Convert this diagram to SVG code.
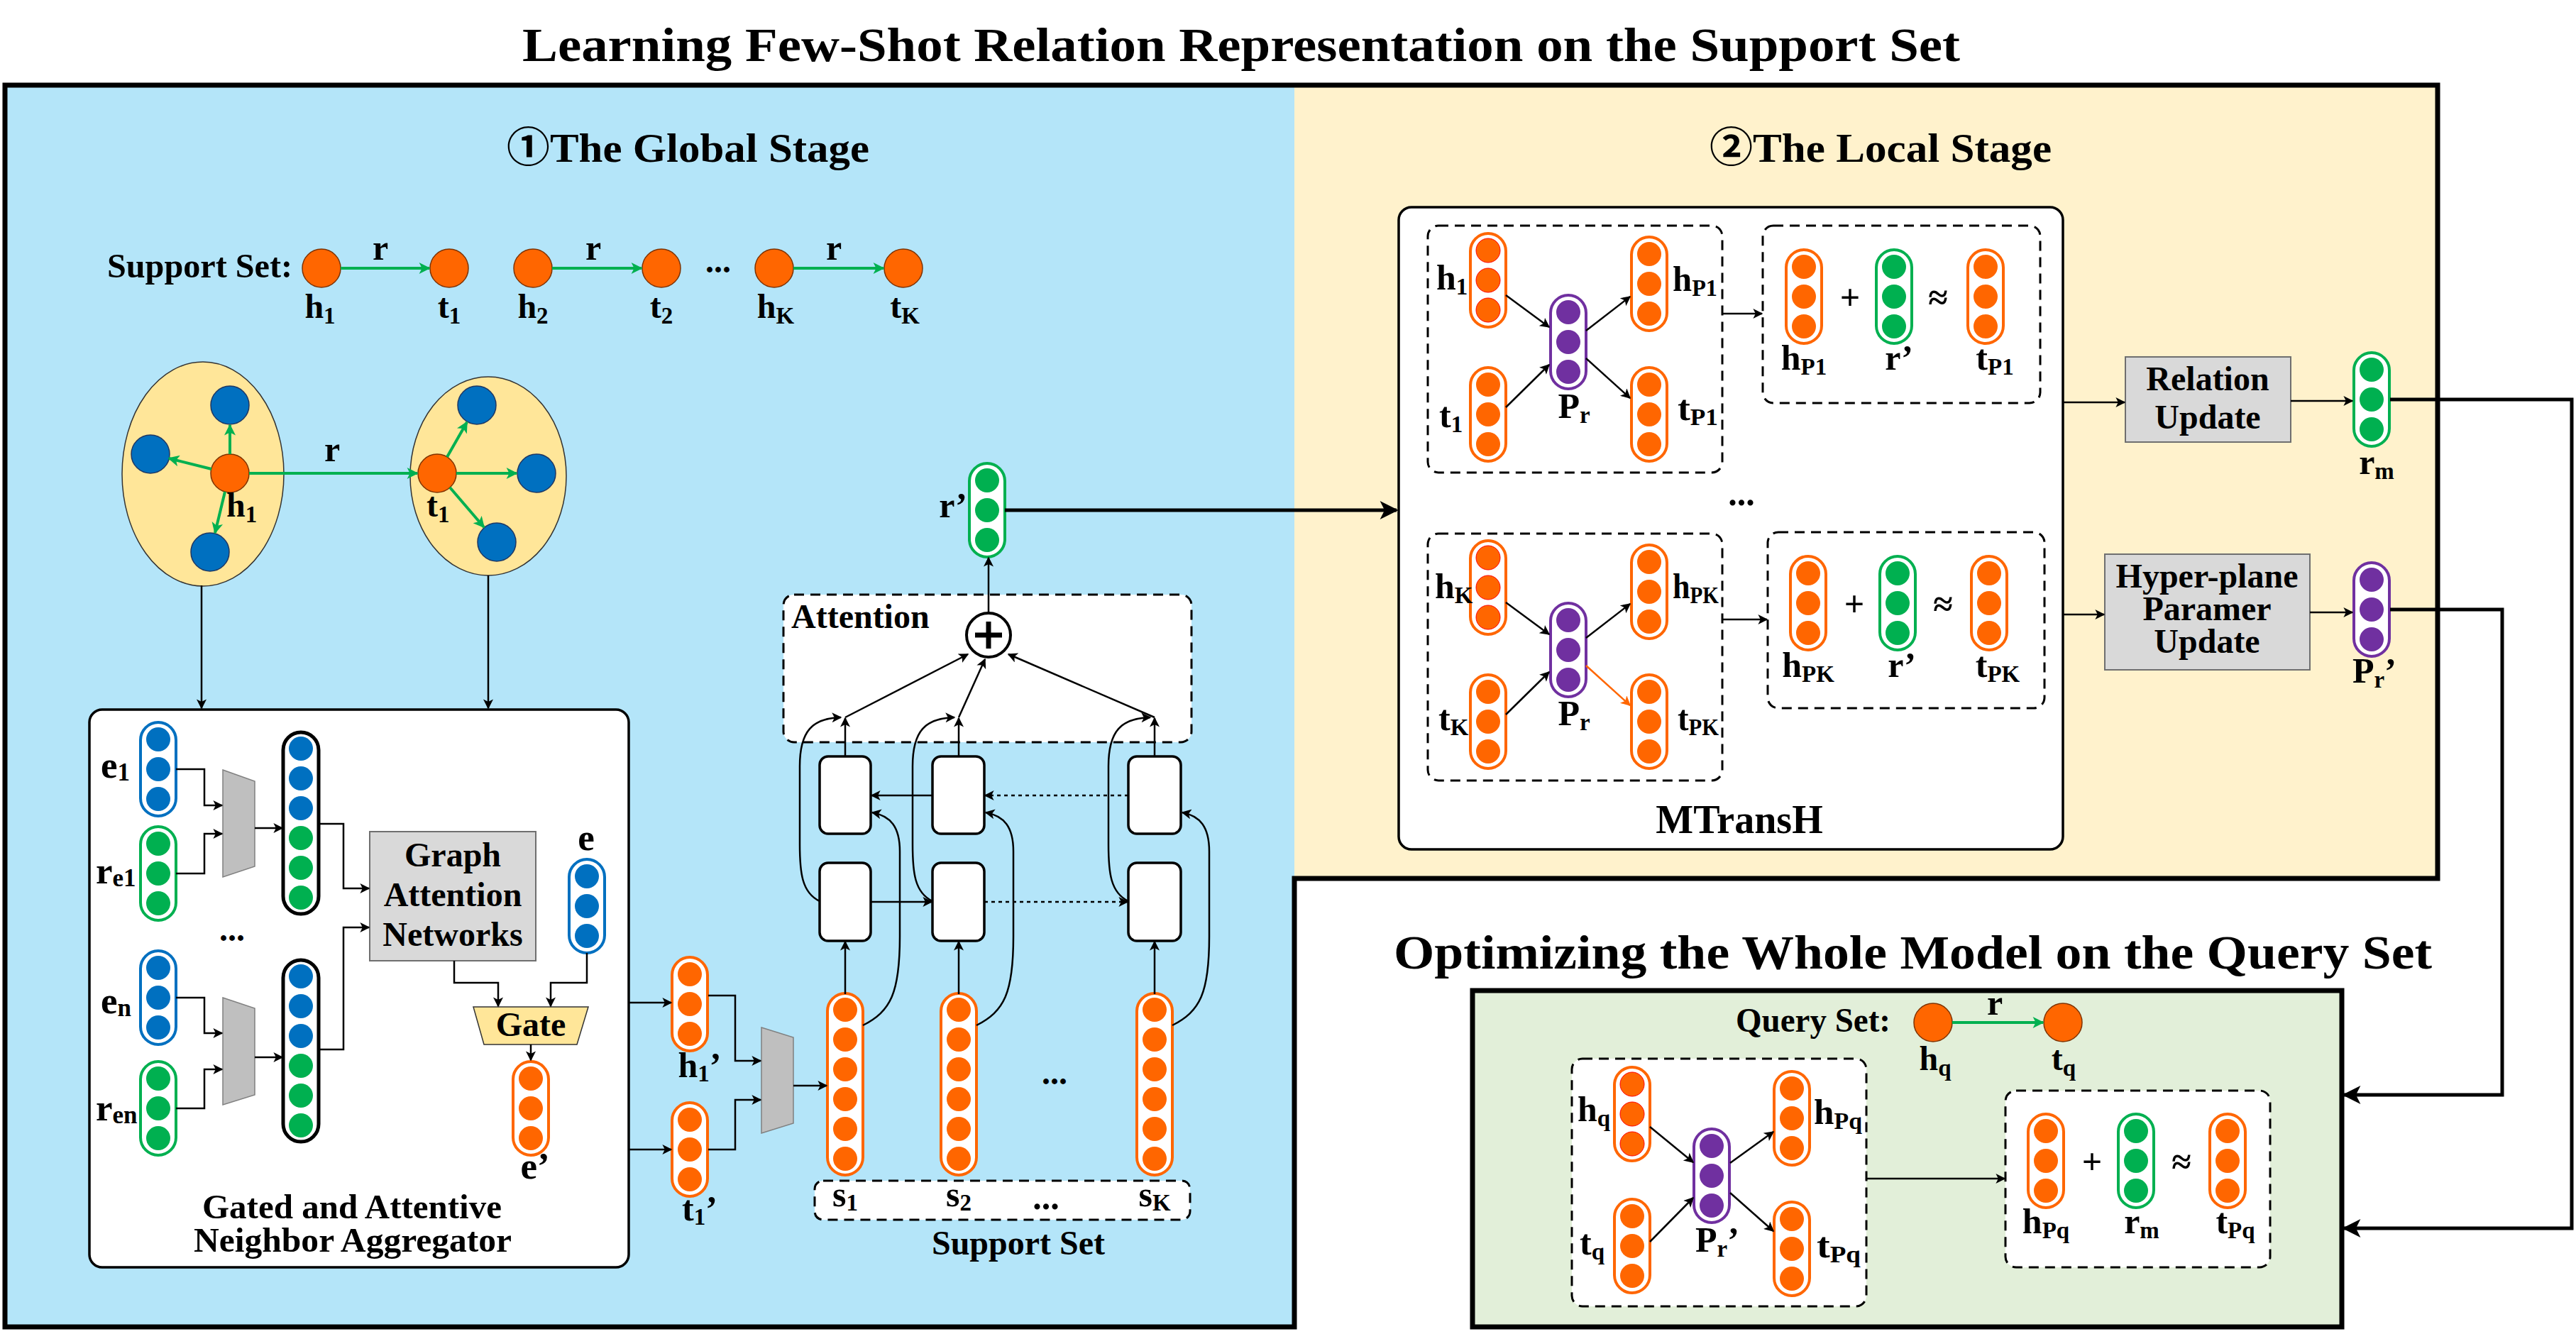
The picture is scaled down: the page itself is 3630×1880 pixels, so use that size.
<svg xmlns="http://www.w3.org/2000/svg" width="3630" height="1880" viewBox="0 0 3630 1880">
<style>
.t{font-family:"Liberation Serif","Noto Sans CJK SC",serif;font-weight:bold;fill:#000}
.ttl{font-size:68px}
.stg{font-size:58px}
.lb{font-size:50px}
.sm{font-size:48px}
.bx{font-size:48px}
.sub{font-size:33px}
.ln{fill:none;stroke:#000;stroke-width:2.5}
.thk{fill:none;stroke:#000;stroke-width:5}
.dash{fill:#fff;stroke:#000;stroke-width:3;stroke-dasharray:14 9}
.dot{fill:none;stroke:#000;stroke-width:2.5;stroke-dasharray:5 5}
.gray{fill:#d9d9d9;stroke:#6f6f6f;stroke-width:2}
.trap{fill:#bfbfbf;stroke:#808080;stroke-width:1.5}
.lstm{fill:#fff;stroke:#000;stroke-width:3.5}
.gar{fill:none;stroke:#00b050;stroke-width:4}
.on{fill:#ff6600;stroke:#7f3300;stroke-width:1.5}
.bn{fill:#0070c0;stroke:#1f3864;stroke-width:1.5}
</style>
<defs>
<marker id="ak" viewBox="0 0 10 10" refX="9" refY="5" markerWidth="17" markerHeight="14" markerUnits="userSpaceOnUse" orient="auto"><path d="M0,0 L10,5 L0,10 L2.5,5 z" fill="#000"/></marker>
<marker id="akb" viewBox="0 0 10 10" refX="9" refY="5" markerWidth="30" markerHeight="26" markerUnits="userSpaceOnUse" orient="auto"><path d="M0,0 L10,5 L0,10 L2.5,5 z" fill="#000"/></marker>
<marker id="ag" viewBox="0 0 10 10" refX="9" refY="5" markerWidth="18" markerHeight="16" markerUnits="userSpaceOnUse" orient="auto"><path d="M0,0 L10,5 L0,10 L2.5,5 z" fill="#00b050"/></marker>
<marker id="ao" viewBox="0 0 10 10" refX="9" refY="5" markerWidth="17" markerHeight="14" markerUnits="userSpaceOnUse" orient="auto"><path d="M0,0 L10,5 L0,10 L2.5,5 z" fill="#ff6600"/></marker>
<g id="v3o"><rect x="-25" y="-66" width="50" height="132" rx="25" fill="#fff" stroke="#ff6600" stroke-width="4"/><circle cy="-42" r="17" fill="#ff6600"/><circle r="17" fill="#ff6600"/><circle cy="42" r="17" fill="#ff6600"/></g>
<g id="v3r"><rect x="-25" y="-66" width="50" height="132" rx="25" fill="#fff" stroke="#ff6600" stroke-width="4"/><circle cy="-42" r="17" fill="#ff6600" stroke="#ff0000" stroke-width="1"/><circle r="17" fill="#ff6600" stroke="#ff0000" stroke-width="1"/><circle cy="42" r="17" fill="#ff6600" stroke="#ff0000" stroke-width="1"/></g>
<g id="v3b"><rect x="-25" y="-66" width="50" height="132" rx="25" fill="#fff" stroke="#0070c0" stroke-width="4"/><circle cy="-42" r="17" fill="#0070c0"/><circle r="17" fill="#0070c0"/><circle cy="42" r="17" fill="#0070c0"/></g>
<g id="v3g"><rect x="-25" y="-66" width="50" height="132" rx="25" fill="#fff" stroke="#00b050" stroke-width="4"/><circle cy="-42" r="17" fill="#00b050"/><circle r="17" fill="#00b050"/><circle cy="42" r="17" fill="#00b050"/></g>
<g id="v3p"><rect x="-25" y="-66" width="50" height="132" rx="25" fill="#fff" stroke="#7030a0" stroke-width="4"/><circle cy="-42" r="17" fill="#7030a0"/><circle r="17" fill="#7030a0"/><circle cy="42" r="17" fill="#7030a0"/></g>
<g id="v6k"><rect x="-25" y="-128" width="50" height="256" rx="25" fill="#fff" stroke="#000" stroke-width="5"/><circle cy="-105" r="17" fill="#0070c0"/><circle cy="-63" r="17" fill="#0070c0"/><circle cy="-21" r="17" fill="#0070c0"/><circle cy="21" r="17" fill="#00b050"/><circle cy="63" r="17" fill="#00b050"/><circle cy="105" r="17" fill="#00b050"/></g>
<g id="v6o"><rect x="-25" y="-128" width="50" height="256" rx="25" fill="#fff" stroke="#ff6600" stroke-width="4"/><circle cy="-105" r="17" fill="#ff6600"/><circle cy="-63" r="17" fill="#ff6600"/><circle cy="-21" r="17" fill="#ff6600"/><circle cy="21" r="17" fill="#ff6600"/><circle cy="63" r="17" fill="#ff6600"/><circle cy="105" r="17" fill="#ff6600"/></g>
</defs>

<rect width="3630" height="1880" fill="#fff"/>
<!-- backgrounds -->
<g id="frame">
<rect x="7" y="120" width="1817" height="1750" fill="#b4e5f9"/>
<rect x="1824" y="120" width="1611" height="1118" fill="#fff2cc"/>
<path d="M7,120 H3435 V1238 H1824 V1870 H7 Z" fill="none" stroke="#000" stroke-width="7"/>
<rect x="2075" y="1396" width="1225" height="474" fill="#e2efd9" stroke="#000" stroke-width="7"/>
</g>

<!-- titles -->
<g id="titles">
<text class="t ttl" x="736" y="86" textLength="2026" lengthAdjust="spacingAndGlyphs">Learning Few-Shot Relation Representation on the Support Set</text>
<text class="t stg" x="714" y="228" textLength="511" lengthAdjust="spacingAndGlyphs">①The Global Stage</text>
<text class="t stg" x="2409" y="228" textLength="482" lengthAdjust="spacingAndGlyphs">②The Local Stage</text>
<text class="t ttl" x="1964" y="1365" textLength="1463" lengthAdjust="spacingAndGlyphs">Optimizing the Whole Model on the Query Set</text>
</g>

<!-- support set row -->
<g id="support-row">
<text class="t sm" x="151" y="391" textLength="261" lengthAdjust="spacingAndGlyphs">Support Set:</text>
<circle class="on" cx="453" cy="378" r="27"/><circle class="on" cx="633" cy="378" r="27"/>
<circle class="on" cx="751" cy="378" r="27"/><circle class="on" cx="932" cy="378" r="27"/>
<circle class="on" cx="1091" cy="378" r="27"/><circle class="on" cx="1273" cy="378" r="27"/>
<text class="t sm" x="1012" y="384" text-anchor="middle">...</text>
<text class="t lb" x="536" y="366" text-anchor="middle">r</text>
<text class="t lb" x="836" y="366" text-anchor="middle">r</text>
<text class="t lb" x="1175" y="366" text-anchor="middle">r</text>
<text class="t sm" x="451" y="448" text-anchor="middle">h<tspan class="sub" dy="8">1</tspan></text>
<text class="t sm" x="633" y="448" text-anchor="middle">t<tspan class="sub" dy="8">1</tspan></text>
<text class="t sm" x="751" y="448" text-anchor="middle">h<tspan class="sub" dy="8">2</tspan></text>
<text class="t sm" x="932" y="448" text-anchor="middle">t<tspan class="sub" dy="8">2</tspan></text>
<text class="t sm" x="1093" y="448" text-anchor="middle">h<tspan class="sub" dy="8">K</tspan></text>
<text class="t sm" x="1275" y="448" text-anchor="middle">t<tspan class="sub" dy="8">K</tspan></text>
</g>

<!-- neighborhoods -->
<g id="nbr-h1">
<ellipse cx="286" cy="668" rx="114" ry="158" fill="#ffe699" stroke="#333" stroke-width="1.5"/>
<circle class="bn" cx="324" cy="571" r="27"/><circle class="bn" cx="212" cy="640" r="27"/><circle class="bn" cx="296" cy="778" r="27"/>
<circle class="on" cx="324" cy="667" r="27"/>
<text class="t sm" x="319" y="728">h<tspan class="sub" dy="8">1</tspan></text>
</g>
<g id="nbr-t1">
<ellipse cx="688" cy="671" rx="110" ry="140" fill="#ffe699" stroke="#333" stroke-width="1.5"/>
<circle class="bn" cx="672" cy="571" r="27"/><circle class="bn" cx="756" cy="667" r="27"/><circle class="bn" cx="700" cy="764" r="27"/>
<circle class="on" cx="616" cy="667" r="27"/>
<text class="t sm" x="601" y="728">t<tspan class="sub" dy="8">1</tspan></text>
<text class="t lb" x="468" y="650" text-anchor="middle">r</text>
</g>

<!-- aggregator -->
<g id="aggregator">
<rect x="126" y="1000" width="760" height="786" rx="18" fill="#fff" stroke="#000" stroke-width="3.5"/>
<text class="t bx" x="496" y="1717" text-anchor="middle" textLength="422" lengthAdjust="spacingAndGlyphs">Gated and Attentive</text>
<text class="t bx" x="497" y="1764" text-anchor="middle" textLength="448" lengthAdjust="spacingAndGlyphs">Neighbor Aggregator</text>
</g>
<g id="e1"><use href="#v3b" x="223" y="1084"/><text class="t" style="font-size:53px" x="142" y="1096">e<tspan style="font-size:35px" dy="4">1</tspan></text></g>
<g id="re1"><use href="#v3g" x="223" y="1231"/><text class="t" style="font-size:53px" x="135" y="1245">r<tspan style="font-size:35px" dy="4">e1</tspan></text></g>
<g id="en"><use href="#v3b" x="223" y="1406"/><text class="t" style="font-size:53px" x="142" y="1428">e<tspan style="font-size:35px" dy="4">n</tspan></text></g>
<g id="ren"><use href="#v3g" x="223" y="1562"/><text class="t" style="font-size:53px" x="135" y="1579">r<tspan style="font-size:35px" dy="4">en</tspan></text></g>
<text class="t sm" x="327" y="1326" text-anchor="middle">...</text>
<g id="concat1"><polygon class="trap" points="314,1085 359,1101 359,1221 314,1236"/></g>
<g id="concat2"><polygon class="trap" points="314,1406 359,1421 359,1543 314,1557"/></g>
<g id="c1"><use href="#v6k" x="424" y="1160"/></g>
<g id="c2"><use href="#v6k" x="424" y="1481"/></g>
<g id="gat"><rect class="gray" x="521" y="1172" width="234" height="182"/>
<text class="t" style="font-size:48px" x="638" y="1221" text-anchor="middle">Graph</text>
<text class="t" style="font-size:48px" x="638" y="1277" text-anchor="middle">Attention</text>
<text class="t" style="font-size:48px" x="638" y="1333" text-anchor="middle">Networks</text></g>
<g id="e"><use href="#v3b" x="827" y="1277"/><text class="t" style="font-size:53px" x="826" y="1198" text-anchor="middle">e</text></g>
<g id="gate"><polygon points="667,1419 829,1419 813,1472 682,1472" fill="#ffe699" stroke="#333" stroke-width="1.5"/><text class="t sm" x="748" y="1460" text-anchor="middle">Gate</text></g>
<g id="eprime"><use href="#v3o" x="748" y="1562"/><text class="t" style="font-size:53px" x="754" y="1661" text-anchor="middle">e’</text></g>

<!-- h1' t1' -->
<g id="h1p"><use href="#v3o" x="972" y="1415"/><text class="t lb" x="986" y="1518" text-anchor="middle">h<tspan class="sub" dy="6">1</tspan><tspan dy="-6">’</tspan></text></g>
<g id="t1p"><use href="#v3o" x="972" y="1620"/><text class="t lb" x="986" y="1720" text-anchor="middle">t<tspan class="sub" dy="6">1</tspan><tspan dy="-6">’</tspan></text></g>
<g id="concat3"><polygon class="trap" points="1073,1448 1118,1462 1118,1583 1073,1597"/></g>
<g id="s1"><use href="#v6o" x="1191" y="1528"/></g>
<g id="s2"><use href="#v6o" x="1351" y="1528"/></g>
<g id="sK"><use href="#v6o" x="1627" y="1528"/></g>
<text class="t sm" x="1486" y="1528" text-anchor="middle">...</text>
<g id="supportbox"><rect class="dash" x="1148" y="1664" width="529" height="55" rx="12"/>
<text class="t lb" x="1191" y="1700" text-anchor="middle">s<tspan class="sub" dy="6">1</tspan></text>
<text class="t lb" x="1351" y="1700" text-anchor="middle">s<tspan class="sub" dy="6">2</tspan></text>
<text class="t lb" x="1474" y="1704" text-anchor="middle">...</text>
<text class="t lb" x="1627" y="1700" text-anchor="middle">s<tspan class="sub" dy="6">K</tspan></text>
<text class="t sm" x="1435" y="1768" text-anchor="middle">Support Set</text></g>

<!-- attention -->
<g id="attention"><rect class="dash" x="1104" y="838" width="575" height="208" rx="15"/>
<text class="t bx" x="1115" y="885">Attention</text></g>
<g id="lstm">
<rect class="lstm" x="1155" y="1216" width="72" height="110" rx="12"/>
<rect class="lstm" x="1314" y="1216" width="73" height="110" rx="12"/>
<rect class="lstm" x="1590" y="1216" width="74" height="110" rx="12"/>
<rect class="lstm" x="1155" y="1066" width="72" height="109" rx="12"/>
<rect class="lstm" x="1314" y="1066" width="73" height="109" rx="12"/>
<rect class="lstm" x="1590" y="1066" width="74" height="109" rx="12"/>
</g>
<g id="plus"><circle cx="1393" cy="895" r="31" fill="#fff" stroke="#000" stroke-width="4"/><path d="M1393,876 V914 M1374,895 H1412" stroke="#000" stroke-width="7"/></g>
<g id="rprime"><use href="#v3g" x="1391" y="719"/><text class="t lb" x="1343" y="729" text-anchor="middle">r’</text></g>

<!-- MTransH -->
<g id="mtransh"><rect x="1971" y="292" width="936" height="905" rx="18" fill="#fff" stroke="#000" stroke-width="3.5"/>
<text class="t" style="font-size:56px" x="2451" y="1174" text-anchor="middle">MTransH</text>
<text class="t lb" x="2454" y="712" text-anchor="middle">...</text></g>
<g id="proj1"><rect class="dash" x="2012" y="318" width="415" height="348" rx="15"/>
<use href="#v3r" x="2097" y="395"/><use href="#v3o" x="2097" y="584"/><use href="#v3p" x="2210" y="482"/><use href="#v3o" x="2324" y="400"/><use href="#v3o" x="2324" y="584"/>
<text class="t lb" x="2024" y="408">h<tspan class="sub" dy="7">1</tspan></text>
<text class="t lb" x="2028" y="602">t<tspan class="sub" dy="7">1</tspan></text>
<text class="t lb" x="2218" y="589" text-anchor="middle">P<tspan class="sub" dy="7">r</tspan></text>
<text class="t lb" x="2357" y="410" textLength="63" lengthAdjust="spacingAndGlyphs">h<tspan class="sub" dy="7">P1</tspan></text>
<text class="t lb" x="2364" y="592" textLength="57" lengthAdjust="spacingAndGlyphs">t<tspan class="sub" dy="7">P1</tspan></text></g>
<g id="trans1"><rect class="dash" x="2484" y="318" width="391" height="250" rx="15"/>
<use href="#v3o" x="2542" y="418"/><use href="#v3g" x="2669" y="418"/><use href="#v3o" x="2798" y="418"/>
<text class="t lb" x="2607" y="436" text-anchor="middle">+</text><text class="t lb" x="2731" y="436" text-anchor="middle">≈</text>
<text class="t lb" x="2542" y="521" text-anchor="middle">h<tspan class="sub" dy="7">P1</tspan></text>
<text class="t lb" x="2676" y="521" text-anchor="middle">r’</text>
<text class="t lb" x="2811" y="521" text-anchor="middle">t<tspan class="sub" dy="7">P1</tspan></text></g>
<g id="projK"><rect class="dash" x="2012" y="752" width="415" height="348" rx="15"/>
<use href="#v3r" x="2097" y="828"/><use href="#v3o" x="2097" y="1017"/><use href="#v3p" x="2210" y="916"/><use href="#v3o" x="2324" y="834"/><use href="#v3o" x="2324" y="1017"/>
<text class="t lb" x="2022" y="843">h<tspan class="sub" dy="7">K</tspan></text>
<text class="t lb" x="2027" y="1029">t<tspan class="sub" dy="7">K</tspan></text>
<text class="t lb" x="2218" y="1022" text-anchor="middle">P<tspan class="sub" dy="7">r</tspan></text>
<text class="t lb" x="2357" y="843" textLength="65" lengthAdjust="spacingAndGlyphs">h<tspan class="sub" dy="7">PK</tspan></text>
<text class="t lb" x="2364" y="1029" textLength="58" lengthAdjust="spacingAndGlyphs">t<tspan class="sub" dy="7">PK</tspan></text></g>
<g id="transK"><rect class="dash" x="2491" y="750" width="390" height="248" rx="15"/>
<use href="#v3o" x="2548" y="850"/><use href="#v3g" x="2674" y="850"/><use href="#v3o" x="2803" y="850"/>
<text class="t lb" x="2613" y="868" text-anchor="middle">+</text><text class="t lb" x="2738" y="868" text-anchor="middle">≈</text>
<text class="t lb" x="2548" y="954" text-anchor="middle">h<tspan class="sub" dy="7">PK</tspan></text>
<text class="t lb" x="2680" y="954" text-anchor="middle">r’</text>
<text class="t lb" x="2815" y="954" text-anchor="middle">t<tspan class="sub" dy="7">PK</tspan></text></g>

<!-- updates -->
<g id="relupdate"><rect class="gray" x="2995" y="503" width="233" height="120"/>
<text class="t bx" x="3111" y="550" text-anchor="middle">Relation</text>
<text class="t bx" x="3111" y="604" text-anchor="middle">Update</text></g>
<g id="rm"><use href="#v3g" x="3342" y="563"/><text class="t lb" x="3349" y="668" text-anchor="middle">r<tspan class="sub" dy="7">m</tspan></text></g>
<g id="hypupdate"><rect class="gray" x="2966" y="781" width="289" height="163"/>
<text class="t bx" x="3110" y="828" text-anchor="middle">Hyper-plane</text>
<text class="t bx" x="3110" y="874" text-anchor="middle">Paramer</text>
<text class="t bx" x="3110" y="920" text-anchor="middle">Update</text></g>
<g id="prp"><use href="#v3p" x="3342" y="859"/><text class="t lb" x="3346" y="962" text-anchor="middle">P<tspan class="sub" dy="7">r</tspan><tspan dy="-7">’</tspan></text></g>

<!-- query -->
<g id="queryrow"><text class="t sm" x="2446" y="1454" textLength="218" lengthAdjust="spacingAndGlyphs">Query Set:</text>
<circle class="on" cx="2724" cy="1441" r="27"/><circle class="on" cx="2907" cy="1441" r="27"/>
<text class="t lb" x="2811" y="1430" text-anchor="middle">r</text>
<text class="t sm" x="2727" y="1508" text-anchor="middle">h<tspan class="sub" dy="8">q</tspan></text>
<text class="t sm" x="2908" y="1508" text-anchor="middle">t<tspan class="sub" dy="8">q</tspan></text></g>
<g id="projq"><rect class="dash" x="2215" y="1492" width="415" height="349" rx="15"/>
<use href="#v3r" x="2300" y="1570"/><use href="#v3o" x="2300" y="1756"/><use href="#v3p" x="2412" y="1657"/><use href="#v3o" x="2525" y="1576"/><use href="#v3o" x="2525" y="1760"/>
<text class="t lb" x="2223" y="1580">h<tspan class="sub" dy="7">q</tspan></text>
<text class="t lb" x="2226" y="1768">t<tspan class="sub" dy="7">q</tspan></text>
<text class="t lb" x="2420" y="1764" text-anchor="middle">P<tspan class="sub" dy="7">r</tspan><tspan dy="-7">’</tspan></text>
<text class="t lb" x="2556" y="1584" textLength="68" lengthAdjust="spacingAndGlyphs">h<tspan class="sub" dy="7">Pq</tspan></text>
<text class="t lb" x="2560" y="1772" textLength="62" lengthAdjust="spacingAndGlyphs">t<tspan class="sub" dy="7">Pq</tspan></text></g>
<g id="transq"><rect class="dash" x="2826" y="1537" width="373" height="249" rx="15"/>
<use href="#v3o" x="2883" y="1636"/><use href="#v3g" x="3010" y="1636"/><use href="#v3o" x="3139" y="1636"/>
<text class="t lb" x="2948" y="1654" text-anchor="middle">+</text><text class="t lb" x="3074" y="1654" text-anchor="middle">≈</text>
<text class="t lb" x="2883" y="1738" text-anchor="middle">h<tspan class="sub" dy="7">Pq</tspan></text>
<text class="t lb" x="3018" y="1738" text-anchor="middle">r<tspan class="sub" dy="7">m</tspan></text>
<text class="t lb" x="3150" y="1738" text-anchor="middle">t<tspan class="sub" dy="7">Pq</tspan></text></g>

<!-- connectors -->
<g id="connectors">
<path class="gar" d="M480,378 H605" marker-end="url(#ag)"/>
<path class="gar" d="M778,378 H904" marker-end="url(#ag)"/>
<path class="gar" d="M1118,378 H1245" marker-end="url(#ag)"/>
<path class="gar" d="M324,640 V599" marker-end="url(#ag)"/>
<path class="gar" d="M298,661 L238,646" marker-end="url(#ag)"/>
<path class="gar" d="M317,693 L303,751" marker-end="url(#ag)"/>
<path class="gar" d="M351,667 H588" marker-end="url(#ag)"/>
<path class="gar" d="M630,644 L658,595" marker-end="url(#ag)"/>
<path class="gar" d="M643,667 H728" marker-end="url(#ag)"/>
<path class="gar" d="M634,687 L682,743" marker-end="url(#ag)"/>
<path class="gar" d="M2751,1441 H2879" marker-end="url(#ag)"/>

<path class="ln" d="M284,825 V998" marker-end="url(#ak)"/>
<path class="ln" d="M688,811 V998" marker-end="url(#ak)"/>
<path class="ln" d="M248,1084 H288 V1135 H313" marker-end="url(#ak)"/>
<path class="ln" d="M248,1231 H288 V1175 H313" marker-end="url(#ak)"/>
<path class="ln" d="M359,1167 H398" marker-end="url(#ak)"/>
<path class="ln" d="M248,1406 H288 V1456 H313" marker-end="url(#ak)"/>
<path class="ln" d="M248,1562 H288 V1507 H313" marker-end="url(#ak)"/>
<path class="ln" d="M359,1490 H398" marker-end="url(#ak)"/>
<path class="ln" d="M449,1161 H484 V1252 H520" marker-end="url(#ak)"/>
<path class="ln" d="M449,1479 H484 V1307 H520" marker-end="url(#ak)"/>
<path class="ln" d="M640,1354 V1385 H702 V1418" marker-end="url(#ak)"/>
<path class="ln" d="M827,1343 V1385 H776 V1418" marker-end="url(#ak)"/>
<path class="ln" d="M748,1472 V1494" marker-end="url(#ak)"/>
<path class="ln" d="M886,1413 H946" marker-end="url(#ak)"/>
<path class="ln" d="M886,1620 H946" marker-end="url(#ak)"/>
<path class="ln" d="M998,1403 H1036 V1495 H1072" marker-end="url(#ak)"/>
<path class="ln" d="M998,1620 H1036 V1550 H1072" marker-end="url(#ak)"/>
<path class="ln" d="M1118,1530 H1165" marker-end="url(#ak)"/>

<path class="ln" d="M1191,1401 V1327" marker-end="url(#ak)"/>
<path class="ln" d="M1351,1401 V1327" marker-end="url(#ak)"/>
<path class="ln" d="M1627,1401 V1327" marker-end="url(#ak)"/>
<path class="ln" d="M1227,1271 H1313" marker-end="url(#ak)"/>
<path class="dot" d="M1387,1271 H1589" marker-end="url(#ak)"/>
<path class="ln" d="M1314,1121 H1228" marker-end="url(#ak)"/>
<path class="dot" d="M1590,1121 H1388" marker-end="url(#ak)"/>
<path class="ln" d="M1216,1445 C1255,1425 1268,1400 1268,1320 L1268,1200 C1268,1165 1255,1150 1229,1145" marker-end="url(#ak)"/>
<path class="ln" d="M1376,1445 C1415,1425 1428,1400 1428,1320 L1428,1200 C1428,1165 1415,1150 1389,1145" marker-end="url(#ak)"/>
<path class="ln" d="M1652,1445 C1691,1425 1704,1400 1704,1320 L1704,1200 C1704,1165 1691,1150 1666,1145" marker-end="url(#ak)"/>
<path class="ln" d="M1155,1270 C1130,1258 1127,1230 1127,1190 L1127,1080 C1127,1030 1145,1012 1185,1011" marker-end="url(#ak)"/>
<path class="ln" d="M1314,1270 C1289,1258 1286,1230 1286,1190 L1286,1080 C1286,1030 1304,1012 1345,1011" marker-end="url(#ak)"/>
<path class="ln" d="M1590,1270 C1565,1258 1562,1230 1562,1190 L1562,1080 C1562,1030 1580,1012 1621,1011" marker-end="url(#ak)"/>
<path class="ln" d="M1191,1066 V1012" marker-end="url(#ak)"/>
<path class="ln" d="M1351,1066 V1012" marker-end="url(#ak)"/>
<path class="ln" d="M1627,1066 V1012" marker-end="url(#ak)"/>
<path class="ln" d="M1191,1011 L1364,922" marker-end="url(#ak)"/>
<path class="ln" d="M1351,1011 L1388,929" marker-end="url(#ak)"/>
<path class="ln" d="M1627,1011 L1421,922" marker-end="url(#ak)"/>
<path class="ln" d="M1393,864 V786" marker-end="url(#ak)"/>
<path class="thk" d="M1416,719 H1968" marker-end="url(#akb)"/>

<path class="ln" d="M2122,416 L2183,461" marker-end="url(#ak)"/>
<path class="ln" d="M2122,574 L2183,514" marker-end="url(#ak)"/>
<path class="ln" d="M2235,466 L2297,418" marker-end="url(#ak)"/>
<path class="ln" d="M2235,505 L2297,561" marker-end="url(#ak)"/>
<path class="ln" d="M2427,442 H2483" marker-end="url(#ak)"/>
<path class="ln" d="M2122,849 L2183,894" marker-end="url(#ak)"/>
<path class="ln" d="M2122,1007 L2183,947" marker-end="url(#ak)"/>
<path class="ln" d="M2235,899 L2297,851" marker-end="url(#ak)"/>
<path d="M2235,938 L2297,994" fill="none" stroke="#ff6600" stroke-width="2.5" marker-end="url(#ao)"/>
<path class="ln" d="M2427,873 H2490" marker-end="url(#ak)"/>
<path class="ln" d="M2907,567 H2994" marker-end="url(#ak)"/>
<path class="ln" d="M3228,565 H3315" marker-end="url(#ak)"/>
<path class="ln" d="M2907,866 H2965" marker-end="url(#ak)"/>
<path class="ln" d="M3255,863 H3315" marker-end="url(#ak)"/>
<path class="thk" d="M3368,563 H3624 V1731 H3303" marker-end="url(#akb)"/>
<path class="thk" d="M3368,859 H3526 V1543 H3303" marker-end="url(#akb)"/>

<path class="ln" d="M2325,1588 L2386,1638" marker-end="url(#ak)"/>
<path class="ln" d="M2325,1750 L2386,1688" marker-end="url(#ak)"/>
<path class="ln" d="M2438,1639 L2499,1595" marker-end="url(#ak)"/>
<path class="ln" d="M2438,1681 L2499,1735" marker-end="url(#ak)"/>
<path class="ln" d="M2630,1661 H2825" marker-end="url(#ak)"/>
</g>
</svg>
